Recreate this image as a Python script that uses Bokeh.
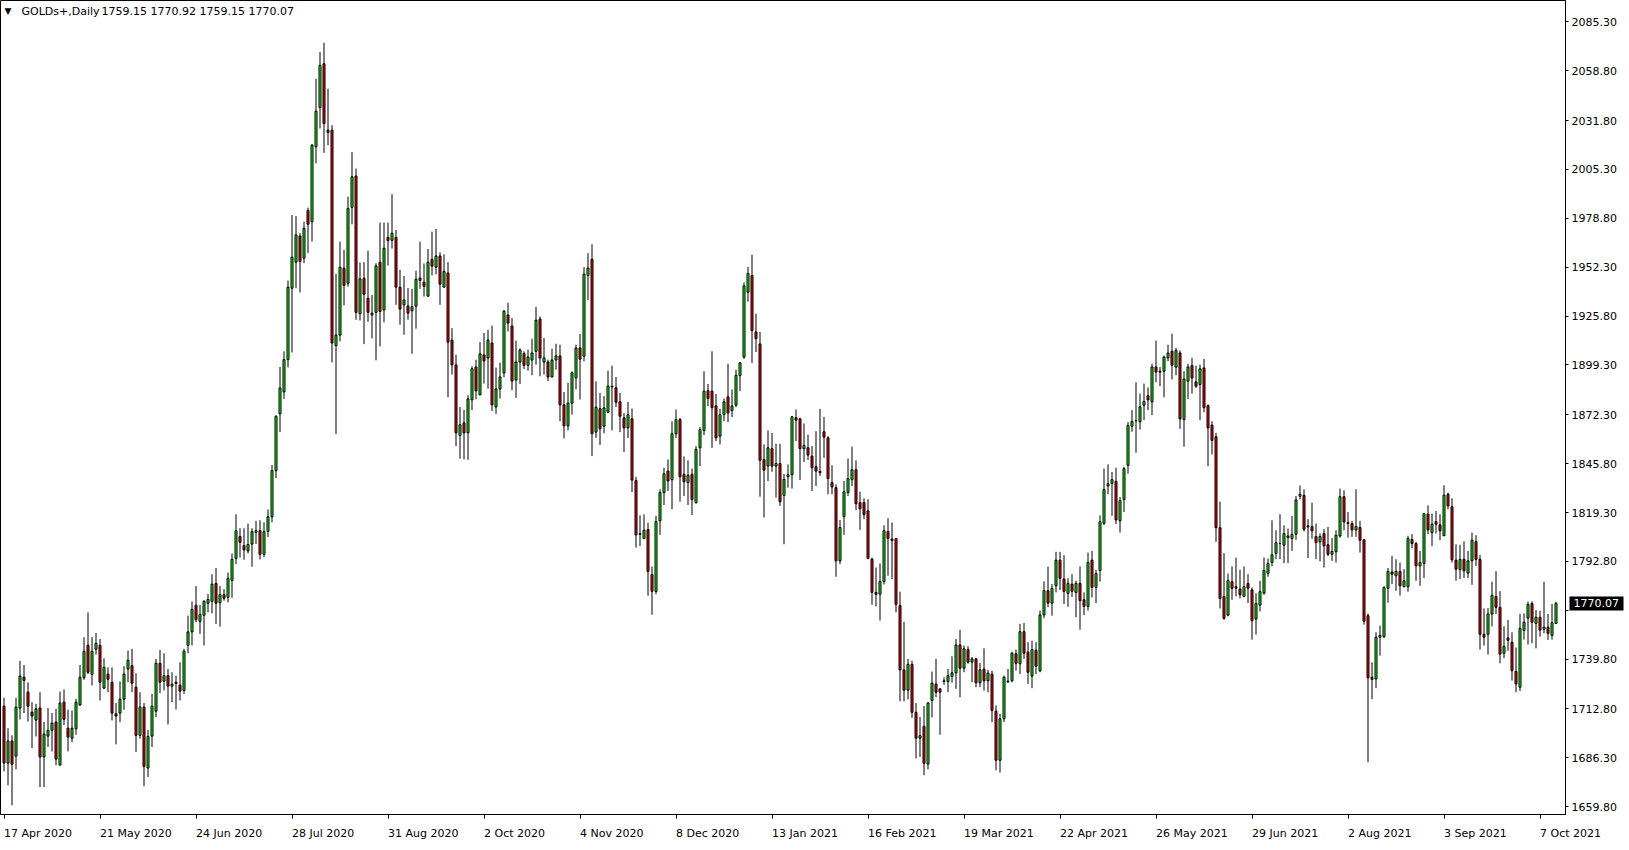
import numpy as np
from bokeh.plotting import figure
from bokeh.models import FixedTicker, Range1d, Label, LinearAxis
from bokeh.embed import file_html
from bokeh.resources import INLINE

symbol_title = "GOLDs+,Daily"
header_values = "1759.15 1770.92 1759.15 1770.07"
last_price = 1770.07

date_labels = ["17 Apr 2020", "21 May 2020", "24 Jun 2020", "28 Jul 2020", "31 Aug 2020",
               "2 Oct 2020", "4 Nov 2020", "8 Dec 2020", "13 Jan 2021", "16 Feb 2021",
               "19 Mar 2021", "22 Apr 2021", "26 May 2021", "29 Jun 2021", "2 Aug 2021",
               "3 Sep 2021", "7 Oct 2021"]
bars_per_label = 24

price_ticks = [1659.80, 1686.30, 1712.80, 1739.80, 1766.30, 1792.80, 1819.30, 1845.80, 1872.30,
               1899.30, 1925.80, 1952.30, 1978.80, 2005.30, 2031.80, 2058.80, 2085.30]
price_tick_labels = ["1659.80", "1686.30", "1712.80", "1739.80", "", "1792.80", "1819.30", "1845.80",
                     "1872.30", "1899.30", "1925.80", "1952.30", "1978.80", "2005.30", "2031.80",
                     "2058.80", "2085.30"]

opens = [1714.3,1683.5,1695.4,1687.3,1713.3,1730.0,1721.9,1711.1,1706.8,1713.3,
         1686.8,1698.1,1701.2,1705.7,1682.4,1716.5,1702.4,1697.0,1702.1,1714.9,
         1729.8,1747.3,1731.5,1745.2,1747.3,1724.1,1731.7,1727.3,1710.2,1710.6,
         1718.1,1734.4,1736.3,1724.6,1698.5,1713.8,1680.8,1698.1,1711.6,1737.6,
         1727.9,1730.9,1725.2,1726.6,1725.7,1722.8,1747.3,1754.6,1769.0,1760.3,
         1763.6,1770.1,1771.1,1780.9,1770.4,1774.9,1773.3,1782.5,1794.4,1806.3,
         1801.4,1798.5,1802.2,1808.5,1809.5,1796.6,1809.0,1817.0,1842.0,1872.8,
         1884.7,1902.2,1940.9,1955.0,1969.2,1957.2,1983.1,1977.0,2017.6,2038.8,
         2062.6,2026.6,2026.6,1909.8,1915.5,1951.8,1943.6,1984.7,2001.7,1927.1,
         1946.3,1935.5,1926.4,1927.8,1955.0,1929.2,1968.5,1966.9,1968.5,1941.5,
         1931.9,1931.2,1928.7,1931.2,1946.4,1944.2,1936.6,1956.6,1952.3,1958.4,
         1941.5,1949.1,1912.8,1899.3,1861.1,1867.9,1862.5,1880.4,1898.2,1883.1,
         1904.7,1903.1,1911.2,1876.6,1886.3,1895.0,1926.4,1920.4,1891.2,1900.9,
         1905.6,1899.1,1902.0,1906.7,1924.2,1900.9,1900.9,1892.8,1902.0,1904.2,
         1877.7,1866.3,1878.6,1892.3,1908.5,1904.0,1947.8,1956.6,1862.9,1875.7,
         1866.1,1873.7,1887.4,1886.9,1879.3,1870.6,1865.2,1870.1,1836.7,1807.9,
         1805.2,1810.1,1785.7,1776.5,1814.8,1830.1,1841.8,1837.1,1862.0,1869.7,
         1840.0,1835.5,1840.0,1824.7,1854.4,1863.8,1885.4,1885.1,1877.1,1860.7,
         1872.4,1882.0,1874.6,1877.5,1893.5,1903.5,1938.8,1947.8,1917.2,1910.7,
         1848.1,1844.5,1854.0,1844.5,1845.9,1828.6,1838.7,1839.8,1870.7,1870.1,
         1853.9,1854.4,1849.9,1844.2,1841.6,1863.1,1859.8,1835.5,1832.8,1793.1,
         1817.1,1830.1,1837.1,1842.5,1824.7,1824.7,1820.2,1794.0,1776.0,1775.1,
         1781.8,1809.0,1804.9,1805.2,1768.9,1734.0,1723.0,1737.0,1711.0,1697.0,
         1703.4,1683.0,1717.4,1726.3,1723.7,1728.1,1727.7,1730.4,1732.4,1747.5,
         1734.9,1745.0,1738.2,1740.0,1727.0,1734.4,1728.1,1731.7,1711.6,1685.0,
         1707.5,1727.9,1728.1,1742.7,1737.3,1754.7,1743.6,1730.6,1744.6,1733.5,
         1763.8,1777.0,1770.2,1779.6,1793.5,1783.2,1775.5,1780.5,1776.0,1780.9,
         1772.0,1768.4,1793.5,1778.7,1787.9,1813.5,1833.7,1835.0,1836.2,1814.8,
         1826.3,1844.9,1866.1,1869.0,1868.5,1877.5,1882.7,1879.3,1898.2,1895.4,
         1895.9,1903.1,1906.7,1898.2,1905.8,1869.7,1890.5,1898.9,1890.1,1888.7,
         1897.7,1877.3,1866.7,1860.4,1811.1,1773.8,1763.7,1781.8,1779.1,1777.8,
         1773.8,1780.9,1777.4,1761.6,1769.1,1775.6,1786.3,1792.2,1797.1,1802.5,
         1801.6,1806.6,1805.2,1807.5,1828.1,1828.6,1811.5,1811.7,1806.3,1803.4,
         1807.9,1801.8,1796.7,1798.0,1806.6,1827.9,1813.9,1813.3,1809.9,1811.2,
         1804.5,1763.4,1730.0,1729.1,1751.7,1752.0,1778.2,1787.0,1785.0,1787.4,
         1779.1,1779.1,1804.7,1802.5,1790.4,1791.7,1818.4,1808.4,1814.4,1812.6,
         1806.7,1829.2,1822.5,1793.5,1788.3,1794.0,1786.5,1793.1,1803.6,1793.9,
         1753.3,1753.3,1764.3,1773.8,1767.9,1743.0,1751.3,1749.0,1733.1,1724.6,
         1755.4,1762.1,1770.0,1759.2,1762.5,1756.0,1757.1,1752.7,1759.15]

highs = [1718.9,1702.4,1698.5,1718.9,1738.9,1736.7,1727.3,1716.5,1715.6,1721.9,
         1705.7,1713.3,1710.6,1712.9,1722.3,1723.4,1712.4,1712.0,1718.3,1736.7,
         1751.7,1765.2,1751.7,1754.0,1750.8,1740.3,1735.4,1735.4,1716.1,1727.7,
         1736.0,1744.5,1745.4,1732.2,1721.9,1716.0,1701.5,1721.0,1739.9,1744.8,
         1743.0,1734.5,1732.7,1730.9,1738.1,1745.4,1763.4,1771.1,1779.4,1769.2,
         1771.9,1775.1,1785.9,1789.2,1779.4,1777.8,1786.8,1797.1,1818.4,1810.8,
         1810.8,1813.3,1810.8,1814.8,1815.1,1814.0,1821.0,1845.0,1872.0,1898.2,
         1906.7,1945.1,1980.6,1980.1,1970.7,1977.0,1984.6,2019.0,2054.5,2069.0,
         2074.0,2049.1,2029.3,1948.7,1966.2,1961.7,1990.5,2014.7,2005.8,1954.8,
         1955.0,1961.3,1937.3,1954.5,1976.5,1976.5,1976.5,1991.9,1972.5,1950.9,
         1947.6,1941.0,1940.6,1950.3,1966.2,1954.3,1962.2,1971.6,1973.1,1960.4,
         1959.3,1955.0,1919.3,1904.9,1876.6,1875.0,1882.9,1898.6,1902.2,1911.7,
         1916.6,1918.4,1920.6,1897.9,1900.6,1929.1,1933.0,1924.7,1912.5,1908.3,
         1906.7,1907.6,1913.5,1930.8,1925.6,1913.9,1902.2,1908.1,1910.8,1910.3,
         1884.7,1889.6,1895.9,1910.3,1916.1,1952.3,1959.9,1964.8,1890.5,1884.2,
         1882.4,1896.2,1898.9,1892.8,1884.2,1873.3,1879.3,1875.7,1838.7,1817.8,
         1818.3,1813.8,1790.0,1817.5,1831.9,1843.6,1848.1,1868.8,1875.2,1870.6,
         1849.7,1847.6,1843.2,1855.3,1865.6,1895.9,1889.0,1906.7,1883.6,1875.5,
         1881.1,1899.9,1886.0,1896.8,1900.9,1944.0,1952.5,1959.0,1927.1,1917.2,
         1856.2,1863.8,1862.5,1856.6,1856.6,1840.3,1845.4,1871.6,1875.2,1870.7,
         1867.6,1861.6,1855.3,1863.4,1875.5,1871.2,1860.7,1844.9,1834.6,1815.3,
         1836.4,1848.5,1855.0,1847.6,1830.6,1827.0,1826.5,1794.9,1789.5,1791.7,
         1812.4,1816.2,1813.9,1805.2,1776.4,1760.0,1740.0,1739.0,1716.0,1708.4,
         1714.4,1716.5,1733.1,1740.0,1724.1,1730.0,1734.5,1741.4,1750.8,1755.6,
         1747.2,1746.8,1740.9,1740.3,1737.8,1745.7,1734.0,1733.6,1714.7,1710.2,
         1730.9,1734.5,1743.9,1745.0,1758.9,1759.4,1749.0,1749.9,1749.0,1766.1,
         1782.0,1790.0,1780.5,1798.0,1798.0,1796.2,1783.6,1785.9,1782.3,1790.1,
         1776.0,1797.6,1798.5,1788.1,1817.8,1843.1,1845.4,1841.3,1843.6,1827.7,
         1844.1,1868.3,1874.8,1889.9,1883.8,1889.2,1887.1,1900.0,1912.5,1898.2,
         1904.4,1910.3,1916.3,1908.5,1907.2,1895.9,1900.0,1903.1,1898.9,1899.5,
         1902.6,1877.9,1868.8,1862.5,1825.2,1797.3,1786.3,1790.1,1794.9,1788.3,
         1790.1,1785.9,1778.7,1775.5,1782.3,1794.9,1794.4,1815.1,1809.7,1818.4,
         1812.4,1810.6,1817.5,1828.3,1834.0,1831.9,1815.7,1824.7,1813.3,1807.9,
         1810.3,1811.5,1805.4,1809.7,1832.3,1831.4,1819.6,1814.8,1831.9,1814.8,
         1804.9,1764.6,1738.1,1754.4,1758.0,1779.3,1789.2,1795.8,1794.0,1792.2,
         1788.6,1806.7,1807.6,1803.4,1798.5,1818.9,1823.2,1818.7,1820.2,1818.4,
         1834.1,1830.1,1827.0,1802.1,1801.8,1803.6,1798.5,1808.4,1807.0,1796.4,
         1767.3,1767.5,1781.8,1787.5,1776.7,1757.6,1761.0,1754.4,1746.1,1764.3,
         1764.6,1771.0,1771.1,1766.4,1766.1,1781.8,1764.3,1769.7,1770.92]

lows = [1679.0,1671.4,1660.6,1680.1,1707.1,1710.6,1706.0,1691.6,1697.9,1670.5,
        1670.5,1692.2,1689.8,1682.3,1682.3,1704.2,1689.8,1694.9,1698.8,1714.7,
        1728.6,1731.8,1725.5,1742.3,1717.4,1723.7,1721.9,1706.6,1693.6,1705.7,
        1712.4,1727.3,1721.9,1689.5,1696.7,1670.9,1675.9,1692.2,1708.4,1721.4,
        1722.8,1704.4,1716.5,1712.5,1717.4,1721.0,1743.0,1747.2,1759.8,1753.5,
        1747.2,1765.2,1764.7,1758.9,1757.4,1771.5,1770.6,1773.1,1791.3,1794.9,
        1793.7,1797.1,1789.9,1802.2,1793.9,1795.0,1806.0,1814.0,1838.0,1862.9,
        1880.9,1898.0,1906.1,1940.9,1938.6,1954.5,1959.9,1966.2,2008.6,2027.5,
        2014.3,2018.5,1900.7,1861.9,1912.1,1931.6,1941.8,1975.6,1923.8,1923.4,
        1910.6,1922.7,1913.7,1901.8,1909.4,1922.4,1953.2,1962.4,1931.9,1921.1,
        1915.7,1923.8,1905.4,1919.0,1940.6,1936.4,1936.4,1947.8,1948.5,1931.9,
        1941.3,1881.8,1894.1,1855.3,1848.5,1848.1,1847.9,1874.8,1880.7,1882.9,
        1889.2,1886.5,1874.3,1872.8,1881.1,1892.6,1917.5,1885.6,1881.5,1889.0,
        1897.1,1896.2,1893.7,1899.5,1893.2,1894.1,1890.5,1892.6,1896.8,1868.8,
        1859.5,1863.8,1872.4,1886.0,1880.6,1901.3,1934.6,1849.9,1859.8,1855.9,
        1862.3,1873.3,1863.8,1876.4,1862.9,1852.1,1859.8,1830.4,1800.3,1801.2,
        1804.8,1774.2,1763.9,1775.0,1807.2,1823.4,1831.0,1821.1,1859.8,1825.2,
        1828.3,1823.4,1818.0,1824.1,1844.5,1861.3,1876.9,1854.4,1858.0,1856.2,
        1868.8,1868.3,1871.0,1876.4,1885.1,1902.7,1933.7,1900.4,1906.3,1827.9,
        1816.6,1836.4,1841.4,1827.4,1822.9,1802.1,1832.8,1832.3,1858.0,1836.9,
        1846.7,1847.8,1831.0,1833.7,1839.1,1849.0,1829.2,1829.2,1784.5,1791.3,
        1807.2,1828.3,1833.7,1820.7,1809.9,1815.7,1794.0,1769.3,1768.4,1760.7,
        1780.3,1785.0,1783.2,1765.2,1717.0,1717.0,1718.0,1708.0,1686.0,1686.8,
        1676.9,1680.1,1708.2,1719.2,1698.8,1725.9,1721.9,1727.0,1723.7,1719.2,
        1732.7,1737.3,1727.3,1724.6,1724.6,1722.8,1721.9,1705.7,1679.6,1678.3,
        1705.7,1727.0,1727.3,1733.6,1731.8,1740.0,1726.4,1724.1,1731.8,1732.7,
        1762.0,1768.0,1763.4,1776.0,1777.3,1769.7,1768.2,1773.6,1762.5,1755.8,
        1763.7,1766.1,1773.3,1770.2,1781.9,1812.6,1829.2,1817.5,1813.0,1808.4,
        1819.6,1840.4,1863.1,1851.7,1864.3,1869.4,1874.8,1872.1,1889.9,1887.8,
        1881.8,1901.3,1891.4,1893.7,1864.7,1855.0,1880.9,1883.8,1886.9,1869.4,
        1873.7,1844.5,1850.8,1803.4,1767.3,1761.2,1763.0,1772.0,1773.8,1772.7,
        1773.3,1770.2,1750.4,1753.1,1765.7,1774.7,1784.5,1790.1,1794.0,1794.0,
        1791.9,1791.9,1798.5,1804.5,1826.5,1809.0,1794.6,1805.2,1794.0,1792.8,
        1789.5,1795.7,1793.1,1792.2,1805.7,1809.7,1805.7,1806.1,1806.1,1797.6,
        1758.5,1684.0,1718.1,1724.1,1741.7,1751.3,1770.4,1780.5,1776.9,1774.2,
        1778.7,1776.4,1800.0,1782.3,1779.6,1783.8,1807.6,1801.2,1807.9,1804.3,
        1806.7,1821.1,1792.2,1782.3,1783.2,1783.8,1783.8,1780.1,1790.4,1745.0,
        1747.2,1742.3,1757.6,1764.3,1737.6,1740.3,1744.4,1728.2,1721.9,1722.5,
        1750.4,1747.7,1748.4,1745.7,1752.0,1753.8,1750.2,1750.4,1759.15]

closes = [1683.5,1695.4,1682.8,1713.8,1730.6,1728.2,1714.3,1709.0,1712.9,1686.8,
          1699.2,1701.2,1705.1,1685.7,1716.0,1707.3,1697.6,1702.4,1716.5,1730.0,
          1744.1,1732.7,1744.1,1748.4,1727.3,1735.4,1728.9,1710.6,1709.0,1718.1,
          1731.7,1739.2,1726.8,1698.5,1713.8,1681.7,1697.9,1714.3,1737.6,1727.3,
          1730.9,1725.2,1726.2,1727.3,1722.5,1744.1,1754.6,1766.8,1761.2,1764.1,
          1771.1,1772.2,1780.5,1770.1,1774.9,1772.8,1783.6,1793.9,1809.5,1803.1,
          1799.1,1802.0,1809.0,1809.5,1796.6,1809.0,1817.0,1842.0,1871.5,1886.8,
          1902.2,1941.5,1957.7,1969.8,1955.4,1973.4,1975.6,2018.5,2036.9,2061.7,
          2030.2,2025.3,1911.2,1915.5,1952.3,1942.4,1984.2,2001.3,1927.8,1946.0,
          1937.7,1927.8,1927.4,1953.0,1928.3,1962.6,1966.7,1970.7,1941.5,1929.6,
          1934.5,1927.4,1930.9,1945.8,1945.1,1941.9,1955.0,1952.9,1958.4,1943.1,
          1950.1,1911.7,1899.3,1862.5,1866.9,1862.5,1880.9,1897.3,1885.3,1905.3,
          1901.5,1912.8,1877.7,1886.3,1892.8,1928.5,1922.0,1890.6,1900.9,1907.4,
          1899.0,1903.6,1905.8,1923.6,1903.1,1903.1,1892.8,1902.0,1904.2,1877.7,
          1866.3,1878.7,1895.0,1908.5,1902.5,1948.5,1951.8,1862.0,1876.4,1864.7,
          1876.0,1887.8,1887.8,1879.1,1871.5,1865.2,1872.4,1836.9,1807.2,1807.5,
          1809.7,1787.3,1776.5,1814.4,1830.1,1840.3,1836.4,1862.0,1869.7,1838.7,
          1836.0,1839.5,1826.3,1853.5,1864.3,1885.1,1881.1,1876.1,1859.8,1872.4,
          1879.3,1873.3,1877.1,1893.7,1900.4,1942.2,1948.9,1917.9,1913.6,1847.6,
          1842.3,1854.4,1844.5,1845.9,1825.2,1837.3,1839.8,1871.2,1869.4,1853.9,
          1855.7,1850.5,1843.6,1841.8,1840.9,1860.2,1837.7,1833.2,1793.1,1811.2,
          1830.6,1837.7,1842.5,1824.1,1821.4,1818.2,1794.4,1776.0,1774.9,1781.9,
          1809.5,1805.2,1804.1,1769.5,1734.0,1723.0,1737.0,1711.0,1697.0,1698.3,
          1683.3,1716.0,1726.8,1721.9,1721.9,1727.7,1730.9,1732.4,1747.5,1734.9,
          1745.4,1738.2,1740.0,1727.0,1734.0,1728.1,1732.2,1712.0,1685.0,1707.5,
          1730.0,1727.5,1743.0,1737.6,1754.7,1743.0,1732.7,1745.0,1736.0,1763.8,
          1777.0,1770.2,1778.2,1793.5,1783.6,1776.5,1780.9,1776.5,1780.9,1771.5,
          1768.4,1792.2,1778.7,1786.3,1814.4,1831.7,1835.0,1837.1,1815.3,1825.8,
          1843.1,1866.5,1868.7,1869.2,1876.6,1879.5,1880.4,1898.2,1895.5,1895.9,
          1903.6,1905.8,1899.1,1907.2,1870.1,1891.7,1898.2,1892.3,1887.8,1897.1,
          1876.1,1865.2,1858.4,1811.1,1772.7,1761.9,1782.5,1778.2,1778.3,1774.7,
          1779.2,1778.3,1760.7,1770.0,1776.4,1787.9,1791.7,1796.4,1803.0,1802.5,
          1807.9,1805.7,1807.5,1826.1,1829.2,1810.2,1812.1,1809.4,1803.0,1806.3,
          1801.2,1796.7,1798.2,1807.0,1827.9,1814.2,1813.3,1809.9,1811.7,1804.3,
          1760.3,1729.7,1728.8,1751.7,1752.7,1778.7,1787.4,1785.9,1787.4,1779.6,
          1782.3,1805.2,1802.5,1790.4,1792.2,1818.7,1809.9,1813.0,1813.0,1809.4,
          1828.7,1822.9,1793.7,1788.6,1793.9,1787.7,1793.1,1804.3,1793.9,1753.3,
          1751.7,1764.3,1774.4,1767.9,1742.6,1746.8,1750.0,1733.6,1726.4,1756.5,
          1759.8,1769.5,1759.8,1762.5,1755.6,1757.1,1753.8,1759.6,1770.07]

o = np.array(opens)
h = np.array(highs)
l = np.array(lows)
c = np.array(closes)
idx = np.arange(len(o))
bull = c >= o
body_top = np.maximum(o, c)
body_bot = np.minimum(o, c)
body_colors = np.where(bull, "#00FF00", "#FF0000")

FONT = "DejaVu Sans"
FIG_W, FIG_H = 1624, 849
FRAME_W, FRAME_H = 1565, 816
BAR_PX = 4.0
FIRST_BAR_PX = 3.5
PX_PER_PRICE = 49.0 / 26.5
Y_ANCHOR_PRICE, Y_ANCHOR_PX = 1819.30, 513.3

x0 = -FIRST_BAR_PX / BAR_PX
x1 = x0 + FRAME_W / BAR_PX
y_top = Y_ANCHOR_PRICE + Y_ANCHOR_PX / PX_PER_PRICE
y_bot = y_top - FRAME_H / PX_PER_PRICE

p = figure(width=FIG_W, height=FIG_H, output_backend="svg", toolbar_location=None,
           x_range=Range1d(x0, x1), y_range=Range1d(y_bot, y_top),
           x_axis_location="below", y_axis_location="right",
           min_border_left=0, min_border_right=FIG_W - FRAME_W, min_border_top=0,
           min_border_bottom=FIG_H - FRAME_H,
           background_fill_color="white", border_fill_color="white")
p.xgrid.visible = False
p.ygrid.visible = False
p.outline_line_color = "black"
p.outline_line_width = 1

p.segment(x0=idx, y0=l, x1=idx, y1=h, line_color="black", line_width=1)
p.vbar(x=idx, width=0.5, top=body_top, bottom=body_bot, fill_color=body_colors,
       line_color="black", line_width=1)

# right price axis
ya = p.yaxis[0]
ya.ticker = FixedTicker(ticks=price_ticks, minor_ticks=[])
ya.major_label_overrides = {t: s for t, s in zip(price_ticks, price_tick_labels)}
ya.major_label_text_font = FONT
ya.major_label_text_font_size = "11px"
ya.major_label_text_color = "black"
ya.major_tick_in = 0
ya.major_tick_out = 3
ya.major_label_standoff = 3
ya.minor_tick_in = 0
ya.minor_tick_out = 0
ya.axis_line_color = "black"
ya.major_tick_line_color = "black"

# current-price marker: an outer axis whose single, very thick inward tick forms
# the black box and whose white label is pulled back over it
pa = LinearAxis(ticker=FixedTicker(ticks=[last_price], minor_ticks=[]),
                major_label_overrides={last_price: f"{last_price:.2f}"},
                major_label_text_font=FONT, major_label_text_font_size="11px",
                major_label_text_color="white", axis_line_color=None,
                major_tick_line_color="black", major_tick_line_width=14,
                minor_tick_line_color=None, minor_tick_in=0, minor_tick_out=0,
                major_tick_in=50, major_tick_out=4)
try:
    pa.major_label_standoff = -50
except Exception:
    pa.major_label_standoff = 0
p.add_layout(pa, "right")

# bottom time axis; a tiny negative angle makes Bokeh left-align labels at their ticks
tick_idx = [i * bars_per_label for i in range(len(date_labels))]
xa = p.xaxis[0]
xa.ticker = FixedTicker(ticks=tick_idx, minor_ticks=[])
xa.major_label_overrides = {t: s for t, s in zip(tick_idx, date_labels)}
xa.major_label_orientation = -0.0001
xa.major_label_text_font = FONT
xa.major_label_text_font_size = "11px"
xa.major_label_text_color = "black"
xa.major_label_standoff = 15
xa.major_tick_in = 0
xa.major_tick_out = 4
xa.axis_line_color = "black"
xa.major_tick_line_color = "black"

# header
p.add_layout(Label(x=4, y=FRAME_H - 12.5, x_units="screen", y_units="screen", text="\u25BC",
                   text_align="left", text_baseline="middle",
                   text_font=FONT, text_font_size="9px", text_color="black"))
p.add_layout(Label(x=21, y=FRAME_H - 12.5, x_units="screen", y_units="screen",
                   text=symbol_title, text_align="left", text_baseline="middle",
                   text_font=FONT, text_font_size="11px", text_color="black"))
p.add_layout(Label(x=101, y=FRAME_H - 12.5, x_units="screen", y_units="screen",
                   text=header_values, text_align="left", text_baseline="middle",
                   text_font=FONT, text_font_size="11px", text_color="black"))

open("out.html", "w").write(file_html(p, INLINE))
